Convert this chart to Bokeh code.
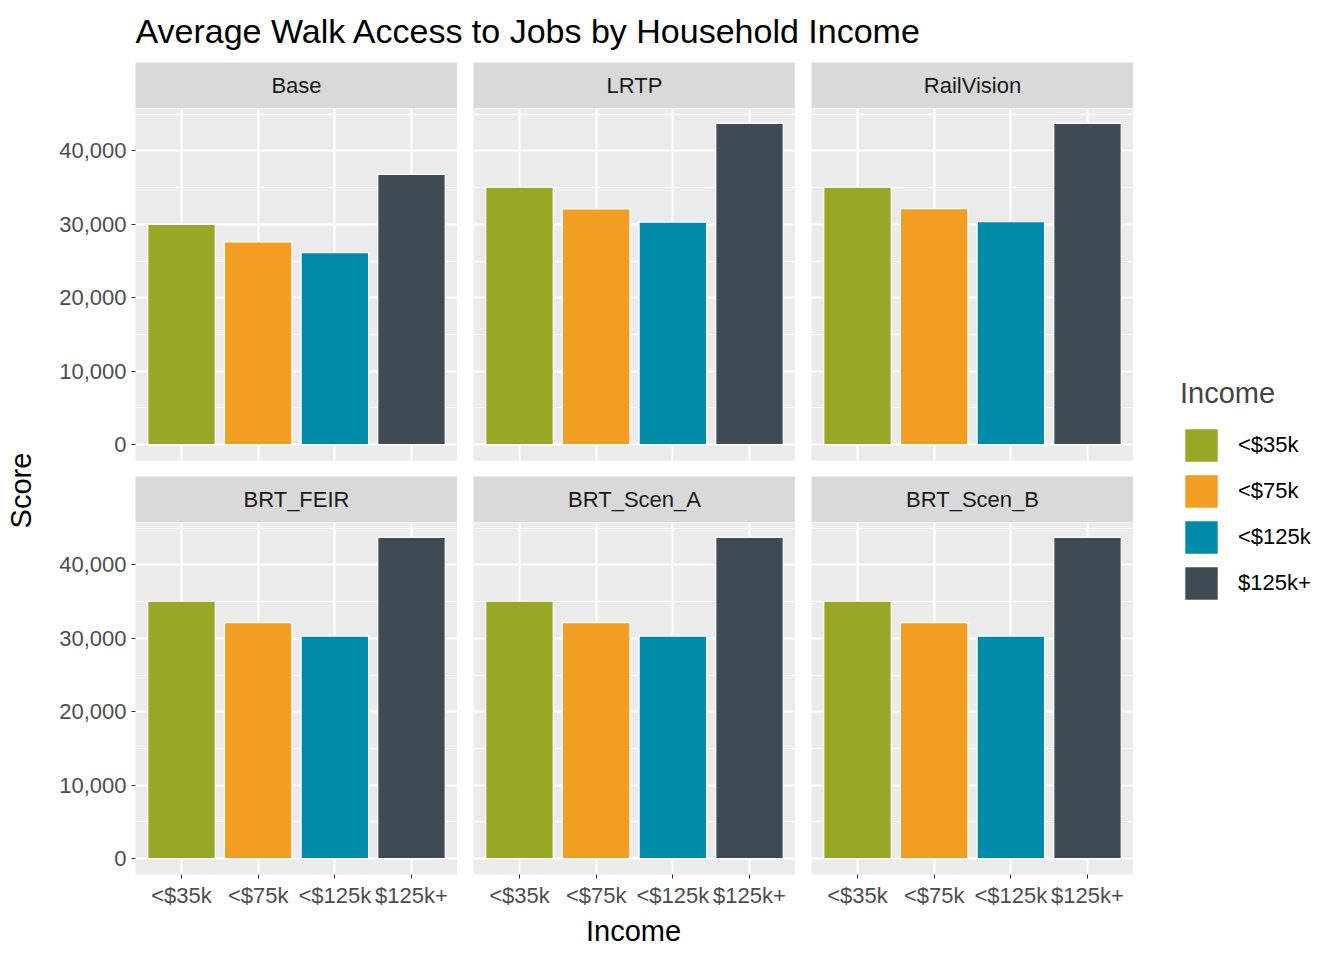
import math
from bokeh.plotting import figure
from bokeh.layouts import column, row
from bokeh.models import (FactorRange, Range1d, FixedTicker, NumeralTickFormatter,
                          Legend, LegendItem, ColumnDataSource)
from bokeh.core.properties import value
from bokeh.embed import file_html
from bokeh.resources import INLINE

FONT = "Liberation Sans"

incomes = ["<$35k", "<$75k", "<$125k", "$125k+"]
colors = ["#98A725", "#F29E22", "#008BA8", "#3E4B54"]
scenarios = ["Base", "LRTP", "RailVision", "BRT_FEIR", "BRT_Scen_A", "BRT_Scen_B"]
scores = {
    "Base":       [30000, 27600, 26150, 36800],
    "LRTP":       [35050, 32100, 30300, 43750],
    "RailVision": [35050, 32150, 30350, 43750],
    "BRT_FEIR":   [35050, 32150, 30300, 43750],
    "BRT_Scen_A": [35050, 32150, 30300, 43750],
    "BRT_Scen_B": [35050, 32150, 30300, 43750],
}
y_ticks = [0, 10000, 20000, 30000, 40000]
y_minor = [5000, 15000, 25000, 35000, 45000]

FRAME_W = 322
PANEL_H = 352
STRIP_H = 46
SMALL = "22px"
LARGE = "29px"


def base_fig(width, height, **kw):
    p = figure(width=width, height=height, output_backend="svg", toolbar_location=None,
               min_border_left=0, min_border_right=0, min_border_top=0, min_border_bottom=0, **kw)
    p.outline_line_color = None
    p.border_fill_color = "white"
    return p


def blank(p):
    p.xaxis.visible = False
    p.yaxis.visible = False
    p.grid.visible = False
    p.background_fill_color = "white"


def make_strip(name, left):
    p = base_fig(FRAME_W + left, STRIP_H, x_range=Range1d(0, 1), y_range=Range1d(0, 1))
    p.min_border_left = left
    blank(p)
    p.background_fill_color = "#D9D9D9"
    p.text(x=[0.5], y=[0.5], text=[name], text_align="center", text_baseline="middle",
           text_font=value(FONT), text_font_size=SMALL, text_color="#1A1A1A")
    return p


def make_panel(name, left, bottom, show_x, show_y):
    p = base_fig(FRAME_W + left, PANEL_H + bottom,
                 x_range=FactorRange(factors=incomes, range_padding=0.05),
                 y_range=Range1d(-2180, 45780))
    p.min_border_left = left
    p.min_border_bottom = bottom
    p.background_fill_color = "#EBEBEB"
    src = ColumnDataSource(dict(x=incomes, top=scores[name], color=colors))
    p.vbar(x="x", top="top", width=0.88, source=src, fill_color="color", line_color="white",
           line_width=1.2)
    p.yaxis.ticker = FixedTicker(ticks=y_ticks, minor_ticks=y_minor)
    p.yaxis.formatter = NumeralTickFormatter(format="0,0")
    p.grid.grid_line_color = "white"
    p.grid.grid_line_width = 2
    p.ygrid.minor_grid_line_color = "white"
    p.ygrid.minor_grid_line_width = 1
    for ax in (p.xaxis, p.yaxis):
        ax.axis_line_color = None
        ax.major_tick_line_color = "#333333"
        ax.major_tick_in = 0
        ax.major_tick_out = 4
        ax.minor_tick_line_color = None
        ax.major_label_text_font = FONT
        ax.major_label_text_font_size = SMALL
        ax.major_label_text_color = "#4D4D4D"
    p.xaxis.major_label_standoff = 4
    p.yaxis.major_label_standoff = 5
    p.xaxis.visible = show_x
    p.yaxis.visible = show_y
    return p


cols = []
for c in range(3):
    left = 95 if c == 0 else 16
    top_name, bot_name = scenarios[c], scenarios[c + 3]
    cols.append(column(
        make_strip(top_name, left),
        make_panel(top_name, left, 16, False, c == 0),
        make_strip(bot_name, left),
        make_panel(bot_name, left, 40, True, c == 0),
        spacing=0))

MAIN_H = STRIP_H * 2 + PANEL_H * 2 + 16 + 40

score = base_fig(40, MAIN_H, x_range=Range1d(0, 40), y_range=Range1d(0, MAIN_H))
blank(score)
score.text(x=[20], y=[MAIN_H - 428], text=["Score"], angle=math.pi / 2, text_align="center",
           text_baseline="middle", text_font=value(FONT), text_font_size=LARGE, text_color="black")

leg = base_fig(195, MAIN_H, x_range=Range1d(0, 1), y_range=Range1d(0, 1))
blank(leg)
items = []
for inc, col in zip(incomes, colors):
    # drawn outside the visible range; only the legend key shows
    r = leg.vbar(x=[-10], top=[-10], bottom=[-11], width=1, fill_color=col,
                 line_color="white", line_width=1.2)
    items.append(LegendItem(label=inc, renderers=[r]))
legend = Legend(items=items, title="Income", location=(47, 310), padding=0, margin=0,
                glyph_width=42, glyph_height=42, spacing=4, label_standoff=16,
                title_standoff=14, border_line_color=None, background_fill_alpha=0,
                title_text_font=FONT, title_text_font_size=LARGE, title_text_font_style="normal",
                label_text_font=FONT, label_text_font_size=SMALL, label_text_color="black")
leg.add_layout(legend, "center")

title = base_fig(1328, 62, x_range=Range1d(0, 1328), y_range=Range1d(0, 62))
blank(title)
title.text(x=[135], y=[32], text=["Average Walk Access to Jobs by Household Income"],
           text_align="left", text_baseline="middle", text_font=value(FONT),
           text_font_size="34px", text_color="black")

income = base_fig(1133, 46, x_range=Range1d(0, 1133), y_range=Range1d(0, 46))
blank(income)
income.text(x=[633], y=[30], text=["Income"], text_align="center", text_baseline="middle",
            text_font=value(FONT), text_font_size=LARGE, text_color="black")

p = column(title, row(score, *cols, leg, spacing=0), income, spacing=0)

open("out.html", "w").write(file_html(p, INLINE))
